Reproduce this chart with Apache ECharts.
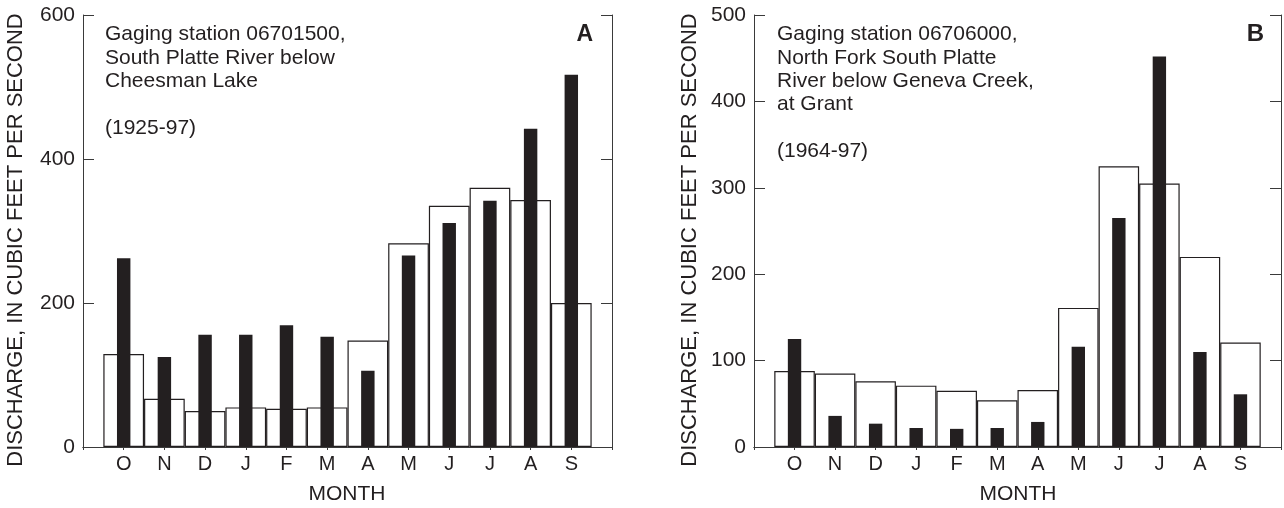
<!DOCTYPE html>
<html>
<head>
<meta charset="utf-8">
<script src="https://cdn.jsdelivr.net/npm/echarts@6/dist/echarts.min.js"></script>
<style>
html,body{margin:0;padding:0;background:#fff;}
#chart{width:1284px;height:508px;}
</style>
</head>
<body>
<div id="chart"></div>
<script>
// ---- data ----
const months = ['O','N','D','J','F','M','A','M','J','J','A','S'];
const stationA_open   = [129, 67, 50, 55, 53, 55, 148, 283, 335, 360, 343, 200];
const stationA_filled = [262, 125, 156, 156, 169, 153, 106, 266, 311, 342, 442, 517];
const stationB_open   = [88, 85, 76, 71, 65, 54, 66, 161, 325, 305, 220, 121];
const stationB_filled = [125, 36, 27, 22, 21, 22, 29, 116, 265, 452, 110, 61];
const yTicksA = {min: 0, max: 600, interval: 200};
const yTicksB = {min: 0, max: 500, interval: 100};
const labelA = 'Gaging station 06701500,\nSouth Platte River below\nCheesman Lake\n\n(1925-97)';
const labelB = 'Gaging station 06706000,\nNorth Fork South Platte\nRiver below Geneva Creek,\nat Grant\n\n(1964-97)';
const yTitle = 'DISCHARGE, IN CUBIC FEET PER SECOND';
const xTitle = 'MONTH';

// ---- build ----
const FONT = '"Liberation Sans", Arial, Helvetica, sans-serif';
const INK = '#231f20';
const LINE = '#3a3a3a';
const cats = [''].concat(months, ['']);
const pad = arr => ['-'].concat(arr, ['-']);

const grids = [
  {left: 83, top: 15, width: 529, height: 432},
  {left: 754, top: 15, width: 528, height: 432}
];

function xAxes(gi){
  return [
    {gridIndex: gi, type: 'category', data: cats, boundaryGap: false, position: 'bottom',
     axisLine: {show: true, lineStyle: {color: LINE, width: 1}},
     axisTick: {show: false},
     axisLabel: {interval: 0, color: INK, fontFamily: FONT, fontSize: 20, margin: 7},
     splitLine: {show: false}},
    {gridIndex: gi, type: 'category', data: cats, boundaryGap: false, position: 'top',
     axisLine: {show: true, lineStyle: {color: LINE, width: 1}},
     axisTick: {show: true, inside: true, length: 3, interval: 0, lineStyle: {color: LINE}},
     axisLabel: {show: false},
     splitLine: {show: false}}
  ];
}
function yAxes(gi, t){
  return [
    {gridIndex: gi, type: 'value', min: t.min, max: t.max, interval: t.interval, position: 'left',
     axisLine: {show: true, lineStyle: {color: LINE, width: 1}},
     axisTick: {show: true, inside: true, length: 11, lineStyle: {color: LINE}},
     axisLabel: {color: INK, fontFamily: FONT, fontSize: 21, margin: 8},
     splitLine: {show: false}},
    {gridIndex: gi, type: 'value', min: t.min, max: t.max, interval: t.interval, position: 'right',
     axisLine: {show: true, lineStyle: {color: LINE, width: 1}},
     axisTick: {show: true, inside: true, length: 11, lineStyle: {color: LINE}},
     axisLabel: {show: false},
     splitLine: {show: false}}
  ];
}

const openStyle = {color: '#ffffff', borderColor: INK, borderWidth: 1.2};
const fillStyle = {color: INK};

const option = {
  animation: false,
  backgroundColor: '#ffffff',
  grid: grids,
  xAxis: xAxes(0).concat(xAxes(1)),
  yAxis: yAxes(0, yTicksA).concat(yAxes(1, yTicksB)),
  title: [
    {text: labelA, left: 105, top: 23, padding: 0,
     textStyle: {fontFamily: FONT, fontSize: 21, lineHeight: 23.3, fontWeight: 'normal', color: INK}},
    {text: 'A', right: 691, top: 23, padding: 0,
     textStyle: {fontFamily: FONT, fontSize: 23, fontWeight: 'bold', color: INK}},
    {text: labelB, left: 777, top: 23, padding: 0,
     textStyle: {fontFamily: FONT, fontSize: 21, lineHeight: 23.3, fontWeight: 'normal', color: INK}},
    {text: 'B', right: 20, top: 22, padding: 0,
     textStyle: {fontFamily: FONT, fontSize: 24, fontWeight: 'bold', color: INK}}
  ],
  graphic: [
    {type: 'text', x: 16, y: 240, rotation: Math.PI / 2,
     style: {text: yTitle, font: '22px ' + FONT, fill: INK, align: 'center', verticalAlign: 'middle'}},
    {type: 'text', x: 690, y: 240, rotation: Math.PI / 2,
     style: {text: yTitle, font: '22px ' + FONT, fill: INK, align: 'center', verticalAlign: 'middle'}},
    {type: 'text', x: 347, y: 494,
     style: {text: xTitle, font: '21px ' + FONT, fill: INK, align: 'center', verticalAlign: 'middle'}},
    {type: 'text', x: 1018, y: 494,
     style: {text: xTitle, font: '21px ' + FONT, fill: INK, align: 'center', verticalAlign: 'middle'}}
  ],
  series: [
    {type: 'bar', xAxisIndex: 0, yAxisIndex: 0, data: pad(stationA_open), barWidth: '100%', itemStyle: openStyle},
    {type: 'bar', xAxisIndex: 1, yAxisIndex: 0, data: pad(stationA_filled), barWidth: '33%', itemStyle: fillStyle},
    {type: 'bar', xAxisIndex: 2, yAxisIndex: 2, data: pad(stationB_open), barWidth: '100%', itemStyle: openStyle},
    {type: 'bar', xAxisIndex: 3, yAxisIndex: 2, data: pad(stationB_filled), barWidth: '33%', itemStyle: fillStyle}
  ]
};

const chart = echarts.init(document.getElementById('chart'), null, {renderer: 'canvas'});
chart.setOption(option);
</script>
</body>
</html>
